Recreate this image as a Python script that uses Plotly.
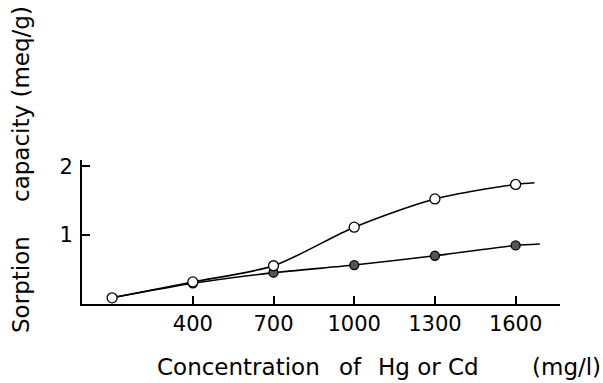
import plotly.graph_objects as go

# Sorption capacity vs. metal concentration
conc = [100, 400, 700, 1000, 1300, 1600]
hg_capacity = [0.09, 0.32, 0.555, 1.115, 1.525, 1.735]
cd_capacity = [0.09, 0.30, 0.455, 0.565, 0.70, 0.85]

# curve continuation past the last measured point
hg_tail = (1670, 1.76)
cd_tail = (1690, 0.87)

x_ticks = [400, 700, 1000, 1300, 1600]
y_ticks = [1, 2]

FONT = "DejaVu Sans"
TITLE_FONT = dict(family=FONT, size=23, color="black")

# plot area in pixels, used to place the title pieces
L, R, T, B = 82, 560, 160, 304


def px_x(px):
    return (px - L) / (R - L)


def px_y(py):
    return (B - py) / (B - T)


fig = go.Figure()

fig.add_trace(go.Scatter(
    x=conc + [hg_tail[0]], y=hg_capacity + [hg_tail[1]],
    mode="lines", line=dict(color="black", width=1.6, shape="spline", smoothing=0.8),
    hoverinfo="skip", showlegend=False))
fig.add_trace(go.Scatter(
    x=conc + [cd_tail[0]], y=cd_capacity + [cd_tail[1]],
    mode="lines", line=dict(color="black", width=1.6, shape="spline", smoothing=0.6),
    hoverinfo="skip", showlegend=False))

fig.add_trace(go.Scatter(
    x=conc[1:], y=cd_capacity[1:], mode="markers",
    marker=dict(size=9, color="#555555", line=dict(color="black", width=1.3)),
    showlegend=False))
fig.add_trace(go.Scatter(
    x=conc, y=hg_capacity, mode="markers",
    marker=dict(size=10, color="white", line=dict(color="black", width=1.3)),
    showlegend=False))

fig.update_xaxes(
    range=[-12, 1765], tickvals=x_ticks, ticks="inside", ticklen=8, tickwidth=1.5,
    tickcolor="black", showline=True, linecolor="black", linewidth=2,
    showgrid=False, zeroline=False,
    tickfont=dict(family=FONT, size=21, color="black"))
fig.update_yaxes(
    range=[0, 2.09], tickvals=y_ticks, ticks="inside", ticklen=8, tickwidth=1.5,
    tickcolor="black", showline=True, linecolor="black", linewidth=2,
    showgrid=False, zeroline=False, ticklabelstandoff=3,
    tickfont=dict(family=FONT, size=21, color="black"))

# y-axis title, drawn in two pieces to keep the wide word gap
for word, centre in [("Sorption", 285), ("capacity (meq/g)", 104)]:
    fig.add_annotation(
        text=word, textangle=-90, showarrow=False,
        xref="paper", yref="paper", x=px_x(21), y=px_y(centre),
        xanchor="center", yanchor="middle", font=TITLE_FONT)

# x-axis title pieces
for word, centre in [("Concentration", 238), ("of", 350),
                     ("Hg or Cd", 428), ("(mg/l)", 566)]:
    fig.add_annotation(
        text=word, showarrow=False,
        xref="paper", yref="paper", x=px_x(centre), y=px_y(367),
        xanchor="center", yanchor="middle", font=TITLE_FONT)

fig.update_layout(
    width=603, height=383,
    margin=dict(l=L, r=603 - R, t=T, b=383 - B),
    paper_bgcolor="white", plot_bgcolor="white",
)

fig.write_html("out.html")
